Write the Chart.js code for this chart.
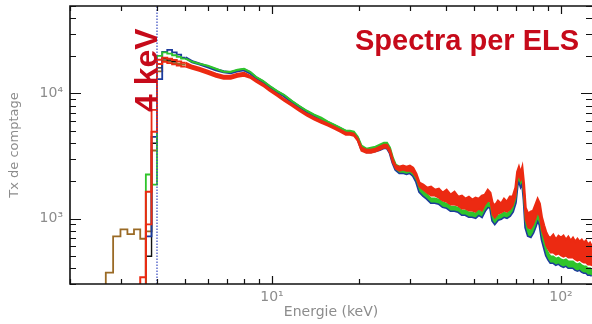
<!DOCTYPE html>
<html>
<head>
<meta charset="utf-8">
<script src="https://cdn.jsdelivr.net/npm/chart.js@4.4.1/dist/chart.umd.min.js"></script>
<style>
  body { margin: 0; background: #fff; }
  #wrap { width: 592px; height: 324px; }
</style>
</head>
<body>
<div id="wrap"><canvas id="c"></canvas></div>
<script>
// low energy histogram bins (keV edges) and counts per bin
const binEdges = [2.49, 2.66, 2.82, 2.99, 3.16, 3.33, 3.50, 3.66, 3.83, 4.00, 4.17, 4.34, 4.51, 4.68, 4.85, 5.02];
const brownBins = [250, 370, 720, 820, 750, 820, 690, 790, 3500, 15000, 18500, 18000, 17500, 17200, 17000];
const blackBins = [null, null, null, null, null, null, 250, 500, 4000, 16000, 19000, 18500, 18000, null, null];
const blueBins  = [null, null, null, null, null, 250, 280, 720, 4500, 13000, 21500, 22300, 21300, 20400, 19300];
const greenBins = [null, null, null, null, null, 250, 280, 2250, 1870, 20000, 21300, 20800, 20200, 19600, 19000];
const redABins  = [null, null, null, null, null, 250, 340, 1640, 4950, 18600, 19300, 18900, 18500, 18000, 17600];
const redBBins  = [null, null, null, null, null, 250, 290, 900, 7400, 17200, 17900, 17500, 17100, 16700, 16400];

// rest of the spectra
const energy = [
  5.02, 5.3, 5.6, 6.0, 6.4, 6.8, 7.2, 7.6, 8.0, 8.4,
  8.8, 9.3, 9.8, 10.4, 11.0, 11.7, 12.4, 13.2, 14.0, 14.8,
  15.6, 16.4, 17.2, 18.0, 18.6, 19.2, 19.8, 20.4, 21.2, 22.0,
  22.8, 23.6, 24.4, 25.0, 25.6, 26.2, 26.8, 27.6, 28.4, 29.2,
  30.0, 30.8, 31.6, 32.4, 33.4, 34.4, 35.5, 36.6, 37.8, 39.0,
  40.2, 41.5, 42.8, 44.1, 45.4, 46.7, 48.0, 49.3, 50.6, 51.9,
  53.2, 54.5, 55.8, 57.0, 58.0, 59.0, 60.5, 62.0, 63.5, 65.0,
  66.5, 68.0, 69.5, 70.5, 71.5, 72.5, 73.5, 74.5, 75.5, 77.0,
  78.5, 80.0, 81.5, 83.0, 84.5, 86.0, 87.5, 89.0, 90.5, 92.0,
  94, 96, 98, 100, 102, 104, 106, 108, 110, 112,
  114, 116, 118, 120, 122, 124, 126, 128
];
const greenVals = [
  19000, 17910, 17250, 16630, 15740, 14900, 14900, 15460, 15740, 14900,
  13590, 12630, 11520, 10500, 9763, 8744, 7976, 7276, 6761, 6399,
  5944, 5626, 5324, 5039, 5039, 4947, 4513, 3825, 3620, 3687,
  3755, 3896, 4042, 4042, 3687, 3068, 2698, 2601, 2601, 2553,
  2601, 2507, 2125, 1768, 1643, 1554, 1444, 1444, 1418, 1342,
  1318, 1246, 1246, 1224, 1159, 1159, 1117, 1117, 1096, 1159,
  1117, 1246, 1342, 1318, 1037, 982, 1056, 1076, 1117, 1096,
  1137, 1224, 1444, 1974, 2204, 1974, 2125, 1526, 947, 817,
  802, 863, 964, 1096, 1000, 759, 655, 566, 526, 497,
  497, 479, 488, 471, 462, 471, 454, 454, 454, 438,
  430, 438, 422, 414, 414, 400, 400, 392
];
const redAVals = [
  17600, 16630, 16030, 15180, 14360, 13840, 13840, 14360, 14630, 13840,
  12860, 11950, 10900, 9942, 9072, 8275, 7549, 6886, 6399, 6055,
  5730, 5423, 5132, 4857, 4857, 4769, 4351, 3687, 3554, 3554,
  3620, 3755, 3896, 3896, 3554, 2958, 2649, 2601, 2649, 2601,
  2649, 2553, 2287, 1938, 1868, 1768, 1801, 1704, 1736, 1613,
  1704, 1554, 1643, 1498, 1526, 1444, 1498, 1418, 1471, 1444,
  1526, 1554, 1704, 1613, 1342, 1269, 1392, 1318, 1444, 1367,
  1498, 1498, 1768, 2372, 2601, 2329, 2601, 1903, 1224, 1096,
  1137, 1159, 1293, 1444, 1318, 1018, 879, 773, 718, 705,
  745, 680, 731, 705, 731, 680, 718, 668, 705, 655,
  692, 655, 680, 644, 668, 620, 644, 598
];
const redBVals = [
  16400, 15740, 15180, 14360, 13590, 13100, 13100, 13590, 13840, 13340,
  12400, 11520, 10500, 9585, 8744, 7976, 7276, 6638, 6167, 5836,
  5524, 5228, 4947, 4682, 4682, 4597, 4193, 3489, 3364, 3364,
  3426, 3554, 3687, 3687, 3364, 2799, 2507, 2416, 2461, 2416,
  2416, 2329, 2125, 1801, 1704, 1613, 1526, 1526, 1471, 1392,
  1367, 1293, 1293, 1269, 1201, 1201, 1159, 1159, 1137, 1201,
  1159, 1293, 1392, 1367, 1076, 1018, 1096, 1117, 1159, 1137,
  1180, 1269, 1498, 2048, 2287, 2048, 2204, 1583, 982, 847,
  832, 895, 1000, 1137, 1037, 802, 705, 609, 566, 536,
  536, 516, 526, 507, 497, 507, 488, 488, 488, 471,
  462, 471, 454, 446, 446, 430, 430, 422
];
const blueVals = [
  19300, 17910, 17250, 16330, 15460, 14900, 14630, 15180, 15460, 14630,
  13340, 12400, 11310, 10310, 9585, 8584, 7831, 7143, 6638, 6167,
  5836, 5524, 5228, 4947, 4947, 4769, 4351, 3620, 3426, 3426,
  3489, 3554, 3687, 3687, 3364, 2799, 2461, 2329, 2329, 2287,
  2329, 2204, 1974, 1643, 1526, 1444, 1342, 1342, 1318, 1246,
  1224, 1159, 1159, 1137, 1076, 1076, 1037, 1037, 1018, 1076,
  1037, 1159, 1246, 1224, 964, 912, 982, 1000, 1037, 1018,
  1056, 1137, 1342, 1834, 2048, 1834, 1974, 1418, 847, 731,
  718, 773, 863, 982, 895, 680, 587, 507, 471, 446,
  446, 430, 438, 422, 414, 422, 407, 407, 407, 392,
  385, 392, 378, 371, 371, 357, 357, 351
];

// axes
const xTickValues = [2, 3, 4, 5, 6, 7, 8, 9, 10, 20, 30, 40, 50, 60, 70, 80, 90, 100];
const yTickValues = [300, 400, 500, 600, 700, 800, 900, 1000, 2000, 3000, 4000, 5000, 6000, 7000, 8000, 9000, 10000, 20000, 30000, 40000, 50000];
const xLabelValues = [10, 100];
const xTickLabels = ['10\u00B9', '10\u00B2'];
const yLabelValues = [1000, 10000];
const yTickLabels = ['10\u00B3', '10\u2074'];
const markerKeV = 4;

const RED = '#ec2a12', GREEN = '#2fc42b', BLUE = '#1c3b9c', BROWN = '#9a6a25';
const GREY = '#8c8c8c', TITLE_RED = '#c60a1a';

function histPoints(edges, counts) {
  const pts = [];
  counts.forEach((c, i) => {
    pts.push({x: edges[i], y: c});
    pts.push({x: edges[i + 1], y: c});
  });
  return pts;
}
function curvePoints(xs, ys) {
  return xs.map((x, i) => ({x: x, y: ys[i]}));
}
function line(data, color, width, extra) {
  return Object.assign({data: data, borderColor: color, borderWidth: width, fill: false, clip: 0}, extra || {});
}
function noPad(s) {
  s.paddingTop = 0; s.paddingBottom = 0; s.paddingLeft = 0; s.paddingRight = 0;
}

const frame = {
  id: 'frame',
  afterDraw(chart) {
    const {ctx, chartArea: a, scales: {x, y}} = chart;
    ctx.save();
    ctx.strokeStyle = '#111';
    ctx.lineWidth = 1.6;
    ctx.beginPath();
    ctx.moveTo(a.right + 2, a.top);
    ctx.lineTo(a.left, a.top);
    ctx.lineTo(a.left, a.bottom);
    ctx.lineTo(a.right + 2, a.bottom);
    ctx.stroke();
    ctx.lineWidth = 1.2;
    ctx.beginPath();
    xTickValues.forEach(v => {
      const px = Math.round(x.getPixelForValue(v)) + 0.5;
      const len = xLabelValues.includes(v) ? 8 : 5;
      ctx.moveTo(px, a.bottom); ctx.lineTo(px, a.bottom - len);
      ctx.moveTo(px, a.top); ctx.lineTo(px, a.top + len);
    });
    yTickValues.forEach(v => {
      const py = Math.round(y.getPixelForValue(v)) + 0.5;
      const len = yLabelValues.includes(v) ? 11 : 6;
      ctx.moveTo(a.left, py); ctx.lineTo(a.left + len, py);
      ctx.moveTo(a.right, py); ctx.lineTo(a.right - len, py);
    });
    ctx.stroke();

    ctx.fillStyle = TITLE_RED;
    ctx.font = 'bold 29px "Liberation Sans", Arial, sans-serif';
    ctx.textAlign = 'left';
    ctx.textBaseline = 'alphabetic';
    ctx.fillText('Spectra per ELS', 355, 50);

    ctx.font = 'bold 32px "Liberation Sans", Arial, sans-serif';
    ctx.translate(x.getPixelForValue(markerKeV), a.top + 106);
    ctx.rotate(-Math.PI / 2);
    ctx.fillText('4 keV', 0, 0);
    ctx.restore();
  }
};

Chart.defaults.font.family = '"DejaVu Sans", sans-serif';

new Chart(document.getElementById('c'), {
  type: 'line',
  data: {
    datasets: [
      line([{x: markerKeV, y: 300}, {x: markerKeV, y: 50000}], '#3548c0', 1.2, {borderDash: [1.5, 1.5]}),
      line(curvePoints(energy, redAVals), RED, 2, {fill: '+1', backgroundColor: RED}),
      line(curvePoints(energy, redBVals), RED, 2),
      line(curvePoints(energy, greenVals), GREEN, 2, {fill: '+1', backgroundColor: GREEN}),
      line(curvePoints(energy, blueVals), BLUE, 3),
      line(histPoints(binEdges, redABins), RED, 2),
      line(histPoints(binEdges, redBBins), RED, 1.8),
      line(histPoints(binEdges, greenBins), GREEN, 1.8),
      line(histPoints(binEdges, blueBins), BLUE, 1.8),
      line(histPoints(binEdges, blackBins), '#111', 1.4),
      line(histPoints(binEdges, brownBins), BROWN, 1.8)
    ]
  },
  options: {
    responsive: true,
    maintainAspectRatio: false,
    animation: false,
    layout: {padding: {top: 6, right: 0, left: 0, bottom: 0}},
    elements: {point: {radius: 0}, line: {tension: 0}},
    plugins: {legend: {display: false}, tooltip: {enabled: false}},
    scales: {
      x: {
        type: 'logarithmic',
        min: 2,
        max: 128,
        afterFit: s => { s.height = 40; noPad(s); },
        afterBuildTicks: s => { s.ticks = xLabelValues.map(v => ({value: v})); },
        grid: {display: false, drawTicks: false},
        border: {display: false},
        ticks: {
          callback: (v, i) => xTickLabels[i],
          color: GREY, font: {size: 14}, padding: 5, maxRotation: 0, autoSkip: false
        },
        title: {display: true, text: 'Energie (keV)', color: GREY, font: {size: 14}, padding: {top: 0, bottom: 3}}
      },
      y: {
        type: 'logarithmic',
        min: 300,
        max: 50000,
        afterFit: s => { s.width = 70; noPad(s); },
        afterBuildTicks: s => { s.ticks = yLabelValues.map(v => ({value: v})); },
        grid: {display: false, drawTicks: false},
        border: {display: false},
        ticks: {
          callback: (v, i) => yTickLabels[i],
          color: GREY, font: {size: 14}, padding: 7, autoSkip: false
        },
        title: {display: true, text: 'Tx de comptage', color: GREY, font: {size: 13}, padding: {top: 7, bottom: 0}}
      }
    }
  },
  plugins: [frame]
});
</script>
</body>
</html>
